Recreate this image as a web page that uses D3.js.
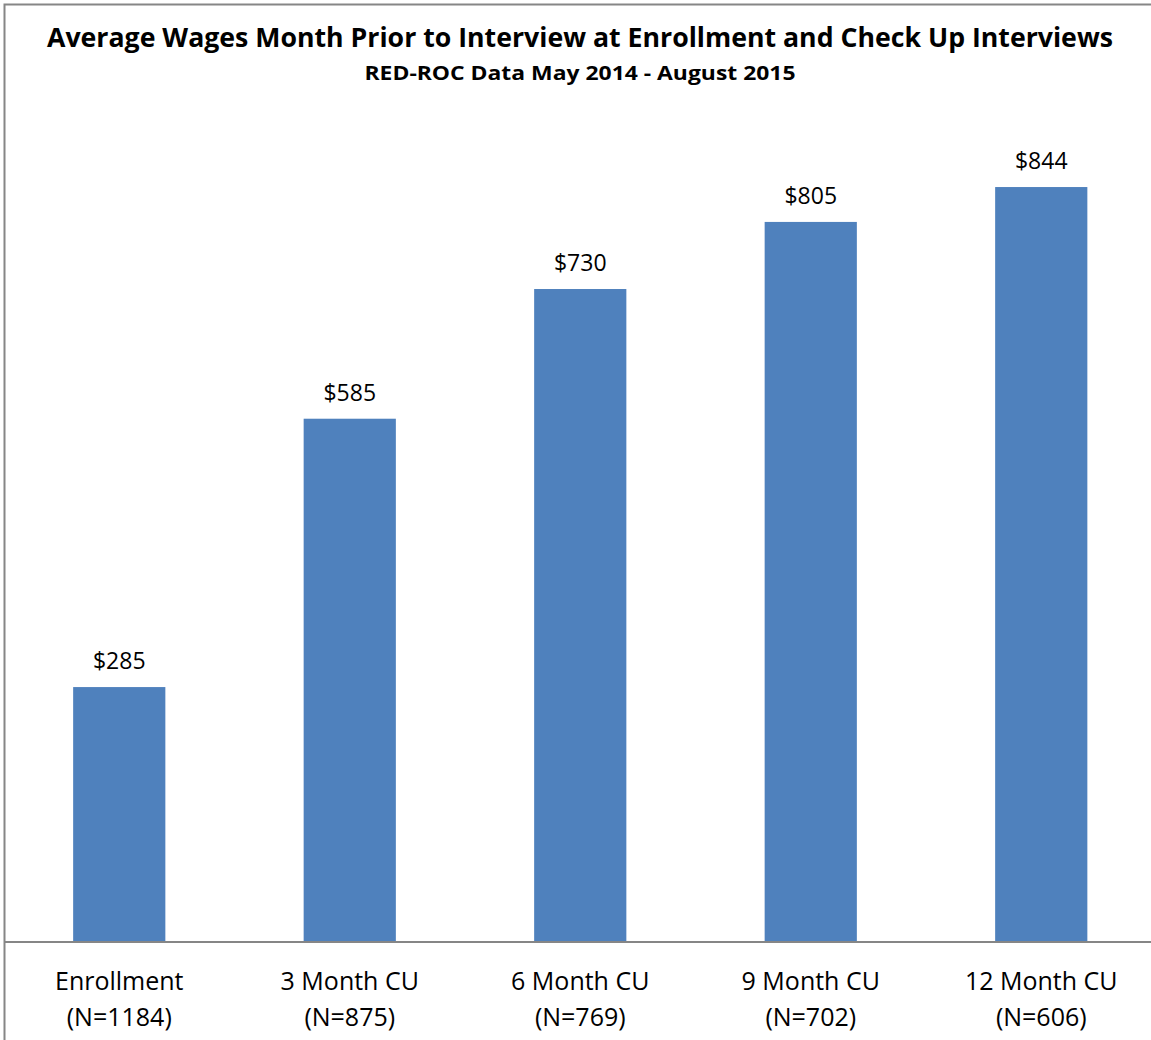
<!DOCTYPE html>
<html>
<head>
<meta charset="utf-8">
<script src="https://cdn.jsdelivr.net/npm/d3@7"></script>
<style>
  html, body { margin: 0; padding: 0; background: #fff; }
  svg { display: block; }
  text { font-family: "Open Sans", "Noto Sans", sans-serif; fill: #000; }
</style>
</head>
<body>
<svg id="chart" width="1151" height="1040"></svg>
<script>
// Average wages in the month before each interview
const categories = ["Enrollment", "3 Month CU", "6 Month CU", "9 Month CU", "12 Month CU"];
const sampleSizes = ["(N=1184)", "(N=875)", "(N=769)", "(N=702)", "(N=606)"];
const wages = [285, 585, 730, 805, 844];
const titleText = "Average Wages Month Prior to Interview at Enrollment and Check Up Interviews";
const subtitleText = "RED-ROC Data May 2014 - August 2015";

const svg = d3.select("#chart");
const W = 1151, H = 1040;

svg.append("rect").attr("width", W).attr("height", H).attr("fill", "#fff");

// chart frame
svg.append("rect")
  .attr("x", 4.5).attr("y", 4.5)
  .attr("width", W + 10).attr("height", H + 10)
  .attr("fill", "none").attr("stroke", "#868686").attr("stroke-width", 2);

const plot = { left: 4, right: 1156.5, top: 47.5, bottom: 942 };

const x = d3.scaleBand()
  .domain(categories)
  .range([plot.left, plot.right])
  .paddingInner(0.6).paddingOuter(0.3);

const y = d3.scaleLinear().domain([0, 1000]).range([plot.bottom, plot.top]);

const data = categories.map((c, i) => ({ cat: c, n: sampleSizes[i], v: wages[i] }));

svg.append("g").selectAll("rect").data(data).join("rect")
  .attr("x", d => x(d.cat))
  .attr("y", d => y(d.v))
  .attr("width", x.bandwidth())
  .attr("height", d => y(0) - y(d.v))
  .attr("fill", "#4f81bd");

// value labels
svg.append("g").selectAll("text").data(data).join("text")
  .attr("x", d => x(d.cat) + x.bandwidth() / 2)
  .attr("y", d => y(d.v) - 18)
  .attr("text-anchor", "middle")
  .attr("font-size", 23)
  .text(d => "$" + d.v);

// category axis
const xAxis = d3.axisBottom(x).tickSize(0).tickFormat("");
const axisG = svg.append("g").attr("transform", `translate(0,${plot.bottom})`).call(xAxis);
axisG.select(".domain").attr("stroke", "#868686").attr("stroke-width", 2)
  .attr("d", `M${plot.left},0H${W}`);

const lab = svg.append("g").selectAll("text").data(data).join("text")
  .attr("text-anchor", "middle")
  .attr("font-size", 25);
lab.append("tspan")
  .attr("x", d => x(d.cat) + x.bandwidth() / 2)
  .attr("y", 990)
  .text(d => d.cat);
lab.append("tspan")
  .attr("x", d => x(d.cat) + x.bandwidth() / 2)
  .attr("y", 1026)
  .text(d => d.n);

// titles
svg.append("text")
  .attr("x", 580).attr("y", 47)
  .attr("text-anchor", "middle")
  .attr("font-size", 26).attr("font-weight", "bold")
  .attr("textLength", 1066).attr("lengthAdjust", "spacingAndGlyphs")
  .text(titleText);

svg.append("text")
  .attr("x", 580).attr("y", 80)
  .attr("text-anchor", "middle")
  .attr("font-size", 20).attr("font-weight", "bold")
  .attr("textLength", 431).attr("lengthAdjust", "spacingAndGlyphs")
  .text(subtitleText);
</script>
</body>
</html>
